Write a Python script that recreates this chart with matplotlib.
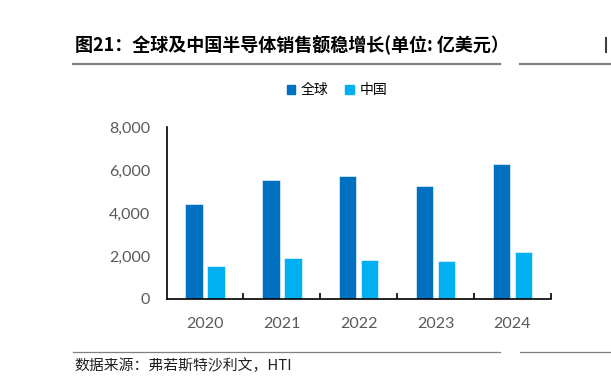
import numpy as np
import matplotlib.pyplot as plt
from matplotlib.patches import Patch
from matplotlib.lines import Line2D

plt.rcParams['font.family'] = ['Noto Sans CJK SC', 'DejaVu Sans']

years = ['2020', '2021', '2022', '2023', '2024']
global_sales = [4404, 5559, 5741, 5268, 6280]
china_sales = [1517, 1925, 1803, 1790, 2190]
series_names = ['全球', '中国']
colors = ['#0070C0', '#00B0F0']

title = '图21：全球及中国半导体销售额稳增长(单位: 亿美元）'
source = '数据来源：弗若斯特沙利文，HTI'

fig = plt.figure(figsize=(6.11, 3.85), dpi=100)
ax = fig.add_axes([0.2728, 0.2234, 0.6285, 0.446])

x = np.arange(len(years))
w = 0.226
off = 0.143
ax.bar(x - off, global_sales, w, color=colors[0], edgecolor='white', linewidth=0.4)
ax.bar(x + off, china_sales, w, color=colors[1], edgecolor='white', linewidth=0.4)

ax.set_xlim(-0.5, len(years) - 0.5)
ax.set_ylim(0, 8000)
ax.set_yticks(np.arange(0, 8001, 2000))
ax.set_yticklabels([f'{v:,}' for v in range(0, 8001, 2000)])
ax.set_xticks(x)
ax.set_xticklabels(years)
ax.set_xticks(np.arange(0.5, len(years), 1.0), minor=True)
ax.tick_params(axis='x', which='major', length=0, pad=13)
ax.tick_params(axis='x', which='minor', direction='in', length=4, width=1.2)
ax.set_yticks([8000], minor=True)
ax.tick_params(axis='y', which='major', length=0, pad=12)
ax.tick_params(axis='y', which='minor', direction='in', length=4, width=1.2)
for lab in ax.get_xticklabels() + ax.get_yticklabels():
    lab.set_fontfamily(['Lato', 'DejaVu Sans'])
    lab.set_fontsize(11.5)
    lab.set_color('#595959')

for s in ['top', 'right']:
    ax.spines[s].set_visible(False)
for s in ['left', 'bottom']:
    ax.spines[s].set_linewidth(1.2)
    ax.spines[s].set_color('black')

handles = [Patch(color=c) for c in colors]
fig.legend(handles, series_names, loc='center', bbox_to_anchor=(337 / 611, 1 - 90 / 385),
           ncol=2, frameon=False, fontsize=10, handlelength=0.6, handleheight=0.6,
           handletextpad=0.4, columnspacing=1.2)

fig.text(75 / 611, 1 - 45 / 385, title, fontsize=13, fontweight='bold', va='center', ha='left')
fig.add_artist(Line2D([73 / 611, 500 / 611], [1 - 63.5 / 385] * 2, color='#808080', lw=1.6))
fig.add_artist(Line2D([520 / 611, 1.0], [1 - 63.5 / 385] * 2, color='#808080', lw=1.6))
fig.add_artist(Line2D([606 / 611] * 2, [1 - 38 / 385, 1 - 52 / 385], color='#404040', lw=1.5))

fig.add_artist(Line2D([73 / 611, 500 / 611], [1 - 352 / 385] * 2, color='#808080', lw=0.9))
fig.add_artist(Line2D([520 / 611, 1.0], [1 - 352 / 385] * 2, color='#808080', lw=0.9))
fig.text(74 / 611, 1 - 366 / 385, source, fontsize=10.7, va='center', ha='left', color='#202020')

fig.savefig('out.png', dpi=100)
